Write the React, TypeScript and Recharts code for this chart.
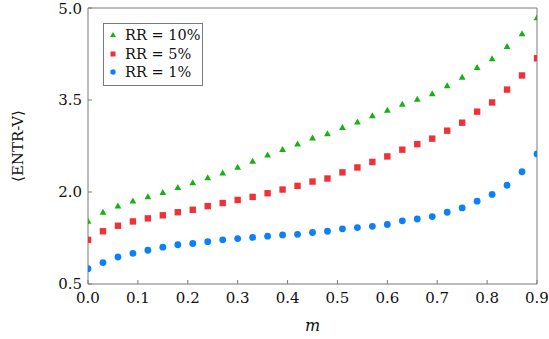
import React from "react";
import { ScatterChart, Scatter, XAxis, YAxis } from "recharts";

// m values, 0.00 .. 0.90 step 0.03
const mValues = [
  0, 0.03, 0.06, 0.09, 0.12, 0.15, 0.18, 0.21, 0.24, 0.27, 0.3, 0.33, 0.36,
  0.39, 0.42, 0.45, 0.48, 0.51, 0.54, 0.57, 0.6, 0.63, 0.66, 0.69, 0.72, 0.75,
  0.78, 0.81, 0.84, 0.87, 0.9,
];

const rr10 = [
  1.52, 1.67, 1.77, 1.85, 1.92, 1.99, 2.07, 2.15, 2.23, 2.31, 2.4, 2.5, 2.6,
  2.69, 2.78, 2.88, 2.95, 3.05, 3.14, 3.24, 3.33, 3.43, 3.51, 3.6, 3.73, 3.87,
  4.03, 4.17, 4.37, 4.58, 4.84,
];

const rr5 = [
  1.22, 1.36, 1.45, 1.52, 1.57, 1.62, 1.67, 1.71, 1.77, 1.82, 1.87, 1.92, 1.98,
  2.04, 2.1, 2.17, 2.22, 2.32, 2.4, 2.49, 2.58, 2.69, 2.78, 2.87, 3.0, 3.13,
  3.31, 3.46, 3.67, 3.9, 4.18,
];

const rr1 = [
  0.75, 0.85, 0.94, 1.0, 1.05, 1.1, 1.14, 1.16, 1.19, 1.22, 1.24, 1.26, 1.28,
  1.3, 1.31, 1.34, 1.36, 1.4, 1.42, 1.44, 1.47, 1.53, 1.56, 1.6, 1.67, 1.74,
  1.85, 1.96, 2.11, 2.33, 2.62,
];

const xTicks = [0, 0.1, 0.2, 0.3, 0.4, 0.5, 0.6, 0.7, 0.8, 0.9];
const yTicks = [0.5, 2.0, 3.5, 5.0];

const GREEN = "#12b312";
const RED = "#ee3338";
const BLUE = "#0a80fa";
const FRAME = "#7a7a7a";
const FONT = "DejaVu Serif";

const toPoints = (ys: number[]) => mValues.map((m, i) => ({ m, v: ys[i] }));

const Triangle = (props: any) => {
  const { cx, cy } = props;
  return (
    <polygon
      points={`${cx},${cy - 3.6} ${cx - 3.4},${cy + 2.4} ${cx + 3.4},${cy + 2.4}`}
      fill={GREEN}
    />
  );
};

const Square = (props: any) => {
  const { cx, cy } = props;
  return <rect x={cx - 3.2} y={cy - 3.2} width={6.4} height={6.4} fill={RED} />;
};

const Dot = (props: any) => {
  const { cx, cy } = props;
  return <circle cx={cx} cy={cy} r={3.4} fill={BLUE} />;
};

const legendRows = [
  { label: "RR = 10%", kind: "tri" },
  { label: "RR = 5%", kind: "sq" },
  { label: "RR = 1%", kind: "dot" },
];

const LegendBox = () => (
  <div
    style={{
      position: "absolute",
      left: 103,
      top: 23,
      border: `1px solid ${FRAME}`,
      background: "#fff",
      width: 98,
      padding: "2px 0 3px 0",
      fontFamily: FONT,
      fontSize: 14.5,
      lineHeight: "18.5px",
      color: "#111",
      whiteSpace: "nowrap",
    }}
  >
    {legendRows.map((r) => (
      <div key={r.label} style={{ display: "flex", alignItems: "center" }}>
        <svg width={21} height={12}>
          {r.kind === "tri" && <polygon points="9,3 6,8 12,8" fill={GREEN} />}
          {r.kind === "sq" && <rect x={6.5} y={3.5} width={5} height={5} fill={RED} />}
          {r.kind === "dot" && <circle cx={9} cy={6} r={2.7} fill={BLUE} />}
        </svg>
        <span>{r.label}</span>
      </div>
    ))}
  </div>
);

export default function App() {
  return (
    <div style={{ position: "absolute", left: 0, top: 0, width: 549, height: 339, background: "#fff" }}>
      <ScatterChart
        width={549}
        height={339}
        margin={{ top: 7, right: 11, bottom: 0, left: 0 }}
      >
        <XAxis
          xAxisId="b"
          dataKey="m"
          type="number"
          domain={[0, 0.9]}
          ticks={xTicks}
          tickFormatter={(v: number) => v.toFixed(1)}
          tickSize={-4}
          tickMargin={12}
          height={55}
          axisLine={{ stroke: FRAME }}
          tickLine={{ stroke: FRAME }}
          tick={{ fill: "#111", fontSize: 15, fontFamily: FONT }}
          allowDataOverflow
          label={{
            value: "m",
            position: "insideBottom",
            offset: 8,
            style: { fontStyle: "italic", fontSize: 16, fontFamily: FONT, fill: "#111" },
          }}
        />
        <XAxis
          xAxisId="t"
          orientation="top"
          dataKey="m"
          type="number"
          domain={[0, 0.9]}
          ticks={xTicks}
          tick={false}
          tickSize={-4}
          height={1}
          axisLine={{ stroke: FRAME }}
          tickLine={{ stroke: FRAME }}
        />
        <YAxis
          yAxisId="l"
          dataKey="v"
          type="number"
          domain={[0.5, 5.0]}
          ticks={yTicks}
          tickFormatter={(v: number) => v.toFixed(1)}
          tickSize={-4}
          tickMargin={10}
          width={88}
          axisLine={{ stroke: FRAME }}
          tickLine={{ stroke: FRAME }}
          tick={{ fill: "#111", fontSize: 15, fontFamily: FONT }}
          allowDataOverflow
          label={{
            value: "⟨ENTR-V⟩",
            angle: -90,
            position: "insideLeft",
            offset: 18,
            style: { textAnchor: "middle", fontSize: 15, fontFamily: FONT, fill: "#111" },
          }}
        />
        <YAxis
          yAxisId="r"
          orientation="right"
          dataKey="v"
          type="number"
          domain={[0.5, 5.0]}
          ticks={yTicks}
          tick={false}
          tickSize={-4}
          width={1}
          axisLine={{ stroke: FRAME }}
          tickLine={{ stroke: FRAME }}
        />
        <Scatter
          name="RR = 10%"
          data={toPoints(rr10)}
          xAxisId="b"
          yAxisId="l"
          shape={Triangle}
          isAnimationActive={false}
        />
        <Scatter
          name="RR = 5%"
          data={toPoints(rr5)}
          xAxisId="b"
          yAxisId="l"
          shape={Square}
          isAnimationActive={false}
        />
        <Scatter
          name="RR = 1%"
          data={toPoints(rr1)}
          xAxisId="b"
          yAxisId="l"
          shape={Dot}
          isAnimationActive={false}
        />
      </ScatterChart>
      <LegendBox />
    </div>
  );
}
